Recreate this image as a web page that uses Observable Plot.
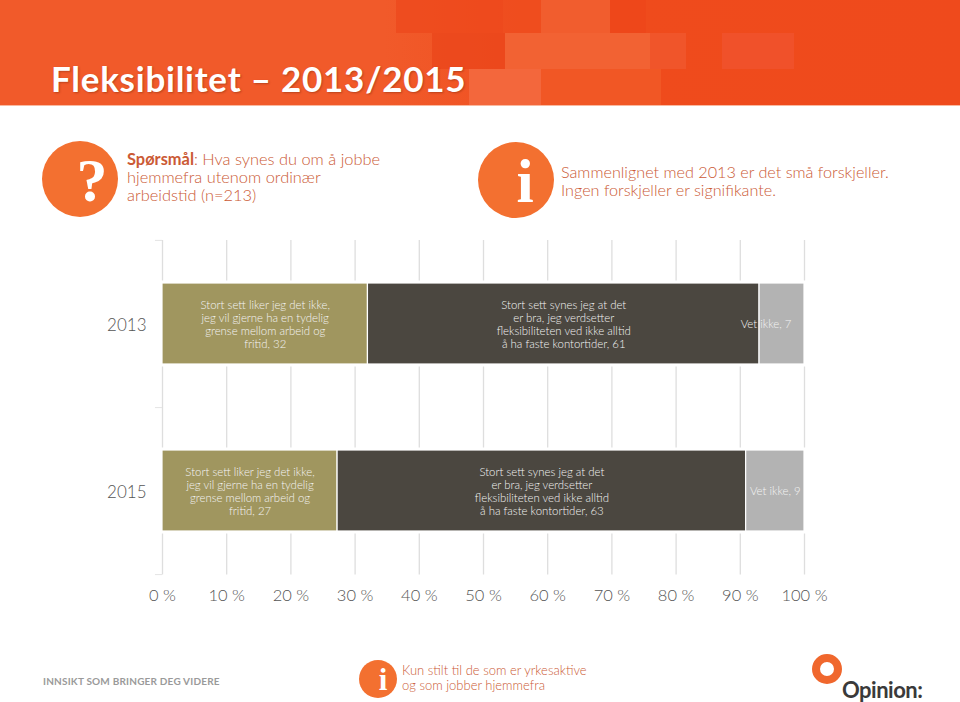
<!DOCTYPE html>
<html><head><meta charset="utf-8">
<script src="https://cdn.jsdelivr.net/npm/d3@7"></script>
<script src="https://cdn.jsdelivr.net/npm/@observablehq/plot@0.6"></script>
<style>
html,body{margin:0;padding:0;background:#fff;overflow:hidden}
#page{position:relative;width:960px;height:702px;overflow:hidden;font-family:Lato,sans-serif}
#page>div,#page>svg{position:absolute}
.banner{left:0;top:0;width:960px;height:106px;background:linear-gradient(90deg,#f15a2a 0,#f15a2a 40%,#ef4b1c 65%,#ef4a1c 100%);border-bottom:1px solid #f9b9a0;box-sizing:border-box;overflow:hidden}
.patch{position:absolute}
.title{left:51px;top:57px;color:#fff;font-size:35px;line-height:42px;font-weight:700;letter-spacing:.75px;text-shadow:1px 1px 2px rgba(120,40,10,.45);white-space:nowrap}
.circle{border-radius:50%;background:#f37030;color:#fff;text-align:center;font-family:"Liberation Serif",serif;font-weight:700;box-sizing:border-box}
.note{color:#cb5a35;font-weight:300;white-space:nowrap}
.foot{left:43px;top:675px;font-size:10px;font-weight:700;color:#9a9a9a;letter-spacing:.2px;white-space:nowrap}
</style></head><body><div id="page">
<div class="banner" id="banner"></div>
<div class="title">Fleksibilitet – 2013/2015</div>
<div class="circle" style="left:42px;top:141px;width:76px;height:76px;line-height:78px;font-size:62px;padding-left:24px">?</div>
<div class="note" style="left:127px;top:150px;font-size:16.4px;line-height:18px"><b style="font-weight:700">Spørsmål</b>: Hva synes du om å jobbe<br>hjemmefra utenom ordinær<br>arbeidstid (n=213)</div>
<div class="circle" style="left:478px;top:142px;width:76px;height:76px;line-height:78px;font-size:62px;padding-left:18px">i</div>
<div class="note" style="left:561px;top:163px;font-size:16.2px;line-height:18px">Sammenlignet med 2013 er det små forskjeller.<br>Ingen forskjeller er signifikante.</div>
<div class="foot">INNSIKT SOM BRINGER DEG VIDERE</div>
<div class="circle" style="left:359px;top:660px;width:38px;height:38px;line-height:40px;font-size:31px;padding-left:10px">i</div>
<div class="note" style="left:402px;top:663px;font-size:13px;line-height:14.5px">Kun stilt til de som er yrkesaktive<br>og som jobber hjemmefra</div>
<div style="left:812px;top:654px;width:14px;height:14px;border:8px solid #f0672d;border-radius:50%"></div>
<div style="left:842px;top:678px;font-size:22px;line-height:24px;font-weight:700;color:#3a3a3a;letter-spacing:-.5px;white-space:nowrap">Opinion:</div>
</div>
<script>
const years = ["2013", "2015"];
const categories = ["Liker ikke", "Verdsetter", "Vet ikke"];
const values2013 = [32, 61, 7];
const values2015 = [27, 63, 9];
const labels = [
  "Stort sett liker jeg det ikke,\njeg vil gjerne ha en tydelig\ngrense mellom arbeid og\nfritid, ",
  "Stort sett synes jeg at det\ner bra, jeg verdsetter\nfleksibiliteten ved ikke alltid\nå ha faste kontortider, ",
  "Vet ikke, "
];
const colors = ["#a0965f", "#4b4740", "#b3b3b3"];
const ticks = [0, .1, .2, .3, .4, .5, .6, .7, .8, .9, 1];

// decorative mosaic in the header banner
const patches = [
  [396, 0, 107, 33, "#ec4519", .6], [541, 0, 69, 33, "#f15d2e", 1], [503, 0, 38, 33, "#ee4b1c", .6],
  [610, 0, 36, 33, "#ec4519", .6], [432, 33, 73, 36, "#ea451a", .7], [505, 33, 145, 36, "#f26233", 1],
  [650, 33, 36, 36, "#f0552a", 1], [722, 33, 72, 36, "#f0512a", 1], [469, 69, 72, 36, "#f3673c", 1],
  [541, 69, 120, 36, "#f15725", 1]
];
const banner = document.getElementById("banner");
for (const [x, y, w, h, c, o] of patches) {
  const p = document.createElement("div");
  p.className = "patch";
  p.style.cssText = `left:${x}px;top:${y}px;width:${w}px;height:${h}px;background:${c};opacity:${o}`;
  banner.appendChild(p);
}

const rows = years.flatMap((year, i) => categories.map((cat, j) => {
  const value = (i ? values2015 : values2013)[j];
  return {year, cat, value, label: labels[j] + value};
}));
const stack = o => Plot.stackX({x: "value", y: "year", z: "cat", order: categories, offset: "normalize", ...o});
const textStyle = {text: "label", fill: "#f4f4f4", fontSize: 11.4, fontWeight: 300, lineHeight: 1.14, lineAnchor: "middle"};
const shifted = d => d.year === "2013" && d.cat === "Vet ikke";
const chart = Plot.plot({
  width: 960, height: 702,
  marginLeft: 162, marginRight: 156, marginTop: 240, marginBottom: 127.5,
  style: {background: "transparent", fontFamily: "Lato, sans-serif"},
  x: {domain: [0, 1], label: null},
  y: {domain: years, label: null, paddingInner: 0.515, paddingOuter: 0.2575, align: .5},
  color: {domain: categories, range: colors},
  marks: [
    Plot.ruleX(ticks, {stroke: "#dedede", strokeWidth: 1.3}),
    Plot.ruleY(["2013", "2015"], {x1: -0.011, x2: 0, dy: 83.6, stroke: "#e4e4e4"}),
    Plot.ruleY(["2013"], {x1: -0.011, x2: 0, dy: -83.6, stroke: "#e4e4e4"}),
    Plot.barX(rows, stack({fill: "#fff", stroke: "#fff", strokeWidth: 5})),
    Plot.barX(rows, stack({fill: "cat", stroke: "#fff", strokeWidth: 1.2})),
    Plot.text(rows, Plot.filter(d => !shifted(d), stack(textStyle))),
    Plot.text(rows, Plot.filter(shifted, stack({...textStyle, dx: -16}))),
    Plot.axisX({ticks, tickSize: 0, tickPadding: 14, fontSize: 16.5, fontWeight: 300, fill: "#555", tickFormat: d => `${Math.round(d * 100)} %`, label: null}),
    Plot.axisY({tickSize: 0, tickPadding: 16, fontSize: 17, fontWeight: 300, fill: "#555", dy: 1.5, label: null})
  ]
});
document.getElementById("page").appendChild(chart);
chart.style.left = "0"; chart.style.top = "0";
</script>
</body></html>
